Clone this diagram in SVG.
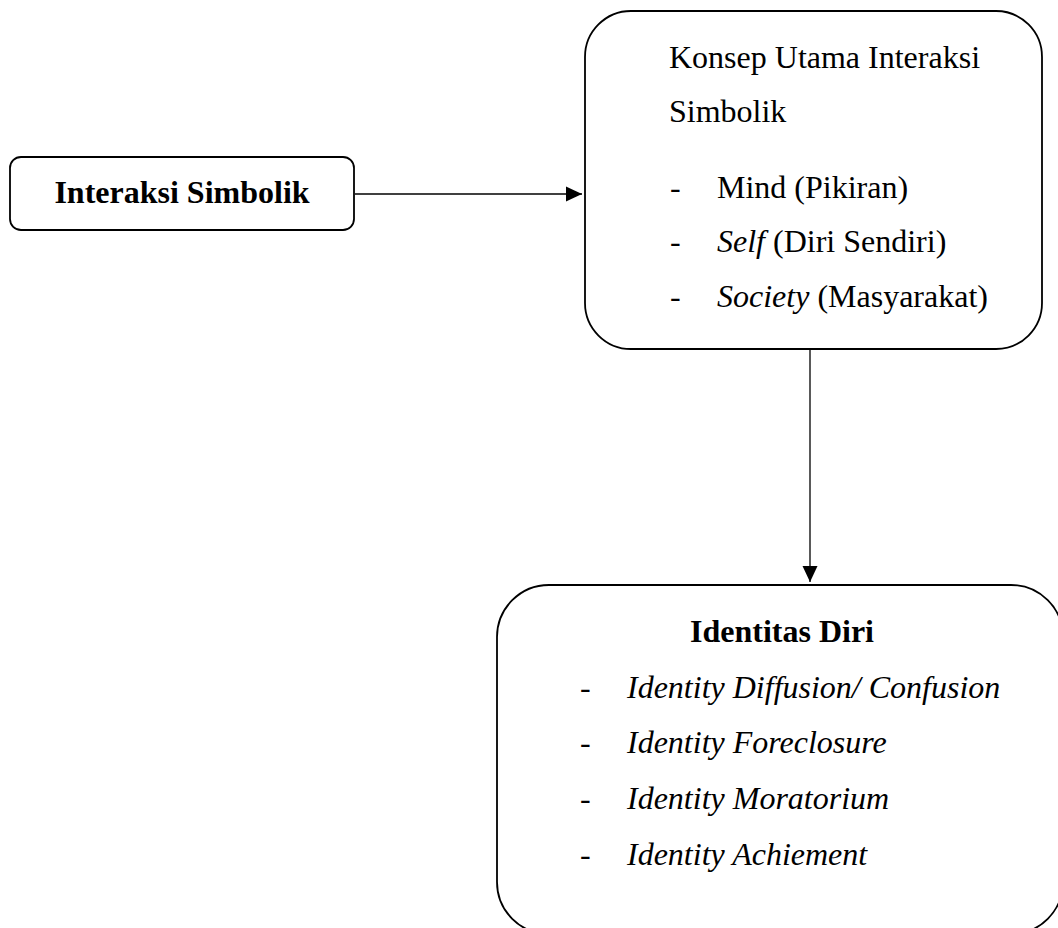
<svg xmlns="http://www.w3.org/2000/svg" width="1058" height="928" viewBox="0 0 1058 928">
<style>
.box{fill:#fff;stroke:#000;stroke-width:1.8}
.t{font-family:'Liberation Serif','Times New Roman',Tinos,'DejaVu Serif','Noto Serif',serif;font-size:32px;fill:#000}
.b{font-weight:bold}
.i{font-style:italic}
.c{fill:none;stroke:#000;stroke-width:1.3}
</style>
<defs>
<marker id="ah" markerWidth="16" markerHeight="16" refX="16" refY="8" orient="auto" markerUnits="userSpaceOnUse">
<path d="M0,0.5 L16,8 L0,15.5 Z" fill="#000"/>
</marker>
</defs>
<rect width="1058" height="928" fill="#fff"/>
<g id="connectors">
<line class="c" x1="355" y1="194" x2="582" y2="194" marker-end="url(#ah)"/>
<line class="c" x1="810" y1="350" x2="810" y2="582" marker-end="url(#ah)"/>
</g>
<g id="node-interaksi">
<rect class="box" x="10" y="157" width="344" height="73" rx="11"/>
<text class="t b" x="182" y="203" text-anchor="middle">Interaksi Simbolik</text>
</g>
<g id="node-konsep">
<rect class="box" x="585" y="11" width="457" height="338" rx="46"/>
<text class="t" x="669" y="68">Konsep Utama Interaksi</text>
<text class="t" x="669" y="122">Simbolik</text>
<text class="t" x="670" y="198">-</text>
<text class="t" x="717" y="198">Mind (Pikiran)</text>
<text class="t" x="670" y="252">-</text>
<text class="t" x="717" y="252"><tspan class="i">Self</tspan> (Diri Sendiri)</text>
<text class="t" x="670" y="307">-</text>
<text class="t" x="717" y="307"><tspan class="i">Society</tspan> (Masyarakat)</text>
</g>
<g id="node-identitas">
<rect class="box" x="497" y="585" width="566" height="349" rx="52"/>
<text class="t b" x="782" y="642" text-anchor="middle">Identitas Diri</text>
<text class="t" x="580" y="698">-</text>
<text class="t i" x="627" y="698">Identity Diffusion/ Confusion</text>
<text class="t" x="580" y="753">-</text>
<text class="t i" x="627" y="753">Identity Foreclosure</text>
<text class="t" x="580" y="809">-</text>
<text class="t i" x="627" y="809">Identity Moratorium</text>
<text class="t" x="580" y="865">-</text>
<text class="t i" x="627" y="865">Identity Achiement</text>
</g>
</svg>
